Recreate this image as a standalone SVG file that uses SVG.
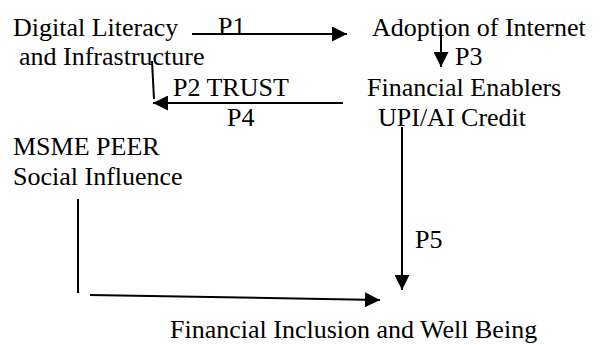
<svg xmlns="http://www.w3.org/2000/svg" width="602" height="345" viewBox="0 0 602 345">
  <style>
    .wire { stroke: #000; stroke-width: 2; fill: none; }
  </style>
  <defs>
    <marker id="arrow" viewBox="0 0 15 15" refX="15" refY="7.5" markerWidth="15" markerHeight="15" markerUnits="userSpaceOnUse" orient="auto">
      <path d="M0,0 L15,7.5 L0,15 Z" fill="#000"/>
    </marker>
  </defs>
  <rect width="602" height="345" fill="#fff"/>

  <g font-family="Liberation Serif" font-size="26" fill="#000">
    <g id="digital-literacy">
      <text x="13" y="36">Digital Literacy</text>
      <text x="19" y="65">and Infrastructure</text>
    </g>
    <g id="adoption">
      <text x="372" y="36">Adoption of Internet</text>
    </g>
    <g id="financial-enablers">
      <text x="367" y="96">Financial Enablers</text>
      <text x="378" y="126">UPI/AI Credit</text>
    </g>
    <g id="msme-peer">
      <text x="13" y="155">MSME PEER</text>
      <text x="13" y="185">Social Influence</text>
    </g>
    <g id="inclusion">
      <text x="170" y="338">Financial Inclusion and Well Being</text>
    </g>
  </g>

  <g id="connectors">
    <line class="wire" x1="192" y1="34" x2="347" y2="34" marker-end="url(#arrow)"/>
    <line class="wire" x1="441" y1="28" x2="441" y2="67" marker-end="url(#arrow)"/>
    <line class="wire" x1="343" y1="103" x2="153" y2="103" marker-end="url(#arrow)"/>
    <line class="wire" x1="152" y1="61" x2="154" y2="99"/>
    <line class="wire" x1="402" y1="127" x2="402" y2="290" marker-end="url(#arrow)"/>
    <line class="wire" x1="78" y1="199" x2="78" y2="293"/>
    <line class="wire" x1="90" y1="295" x2="380" y2="300" marker-end="url(#arrow)"/>
    <g font-family="Liberation Serif" font-size="26" fill="#000">
      <text x="218" y="35">P1</text>
      <text x="455" y="65">P3</text>
      <text x="173" y="96">P2 TRUST</text>
      <text x="227" y="126">P4</text>
      <text x="415" y="248">P5</text>
    </g>
  </g>
</svg>
